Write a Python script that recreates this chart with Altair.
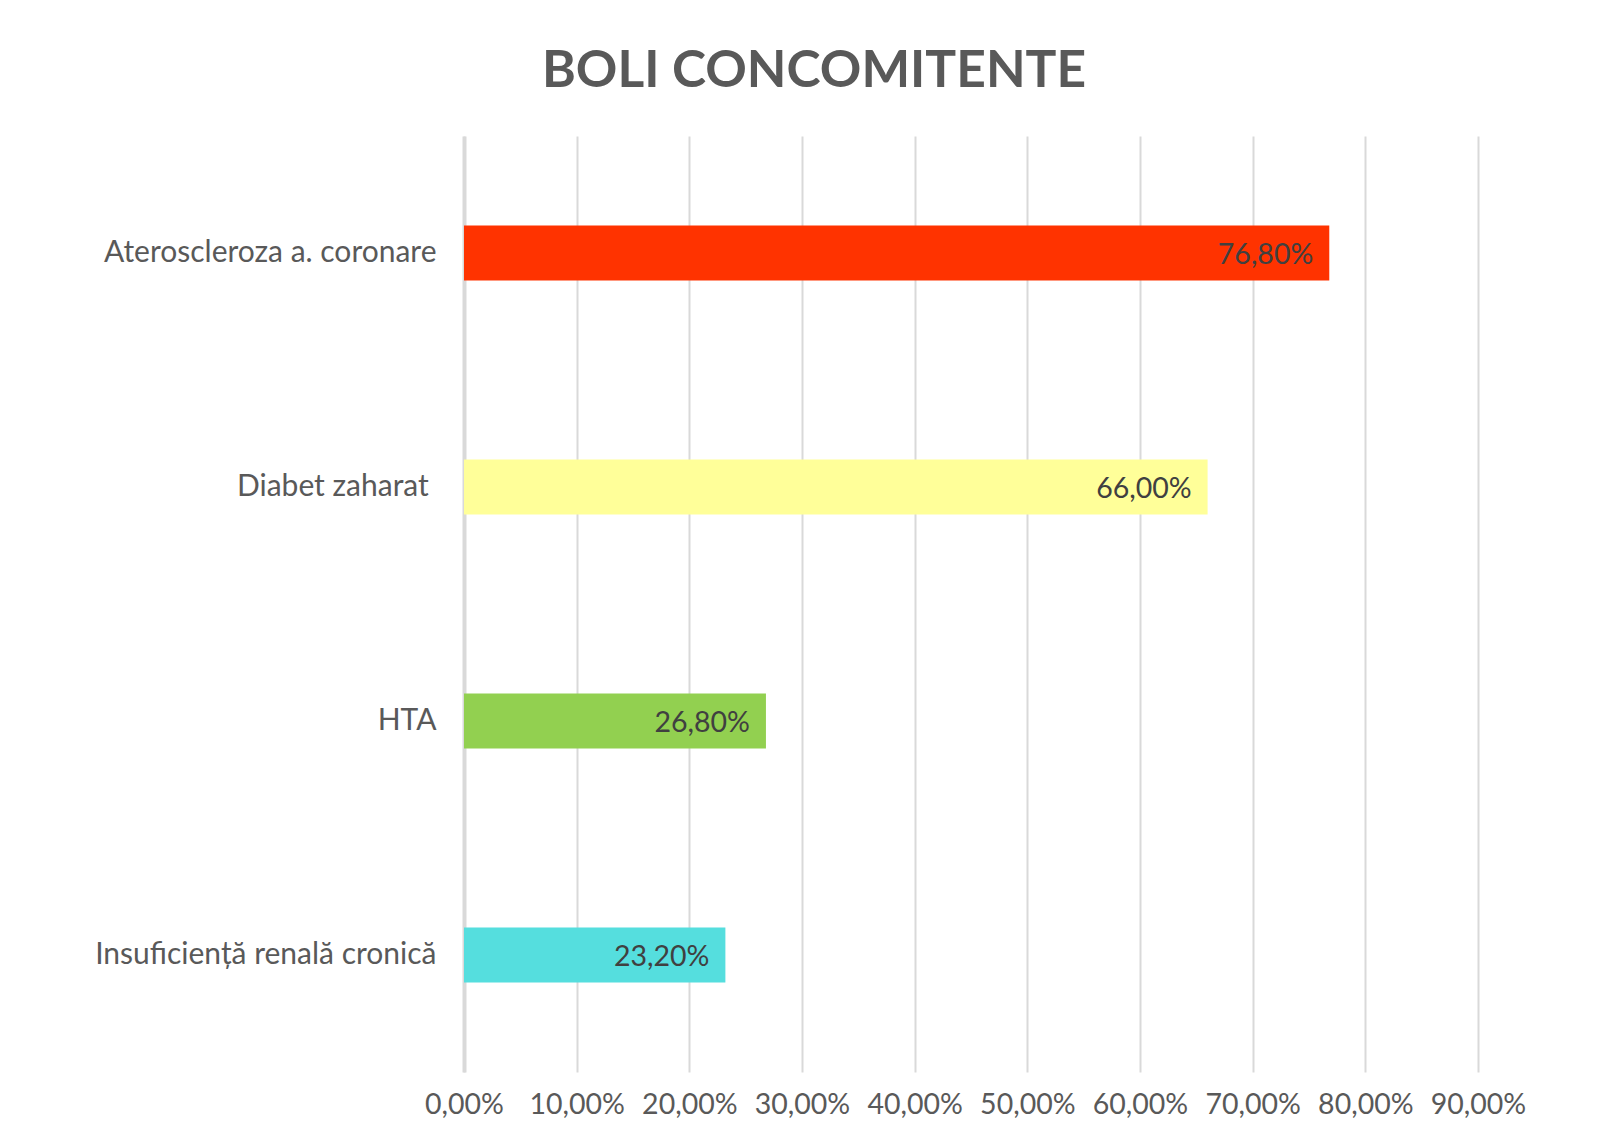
import altair as alt
import pandas as pd

categories = ["Ateroscleroza a. coronare", "Diabet zaharat\u00a0\u2060", "HTA", "Insuficiență renală cronică"]
values = [0.768, 0.66, 0.268, 0.232]
colors = ["#FF3300", "#FFFF99", "#92D050", "#55DEDE"]
ticks = [0.0, 0.1, 0.2, 0.3, 0.4, 0.5, 0.6, 0.7, 0.8, 0.9]

df = pd.DataFrame({"cat": categories, "val": values, "color": colors})

FONT = "Lato"

base = alt.Chart(df).encode(
    y=alt.Y("cat:N", sort=categories,
            scale=alt.Scale(paddingInner=0.765, paddingOuter=0.3825),
            axis=alt.Axis(title=None, ticks=False, domain=True, domainColor="#D9D9D9",
                          domainWidth=4, labelPadding=28, labelFontSize=30,
                          labelColor="#595959", labelFont=FONT, grid=False,
                          labelLimit=600)),
)

bars = base.mark_bar(cornerRadius=0).encode(
    x=alt.X("val:Q", scale=alt.Scale(domain=[0, 0.9], nice=False),
            axis=alt.Axis(title=None, values=ticks,
                          labelExpr="replace(format(datum.value, '.2%'), '.', ',')",
                          grid=True, gridColor="#D9D9D9", gridWidth=2,
                          domain=False, ticks=False, labelPadding=18,
                          labelOverlap=False, labelBound=False, labelFlush=False,
                          labelFontSize=28.5, labelColor="#595959", labelFont=FONT)),
    color=alt.Color("color:N", scale=None),
)

text = base.mark_text(align="right", baseline="middle", dx=-16, dy=2,
                      fontSize=28.5, font=FONT, color="#404040").encode(
    x="val:Q",
    text=alt.Text("lbl:N"),
).transform_calculate(lbl="replace(format(datum.val, '.2%'), '.', ',')")

chart = (bars + text).properties(
    width=1014, height=936,
    title=alt.TitleParams("BOLI CONCOMITENTE", fontSize=51.5, font=FONT, fontWeight="bold",
                          color="#595959", anchor="middle", dx=-157, offset=39),
    padding={"left": 456, "top": 128, "right": 110, "bottom": 46},
    autosize=alt.AutoSizeParams(type="none"),
).configure_view(stroke=None)

chart.save("out.html", embed_options={"renderer": "svg", "actions": False})
